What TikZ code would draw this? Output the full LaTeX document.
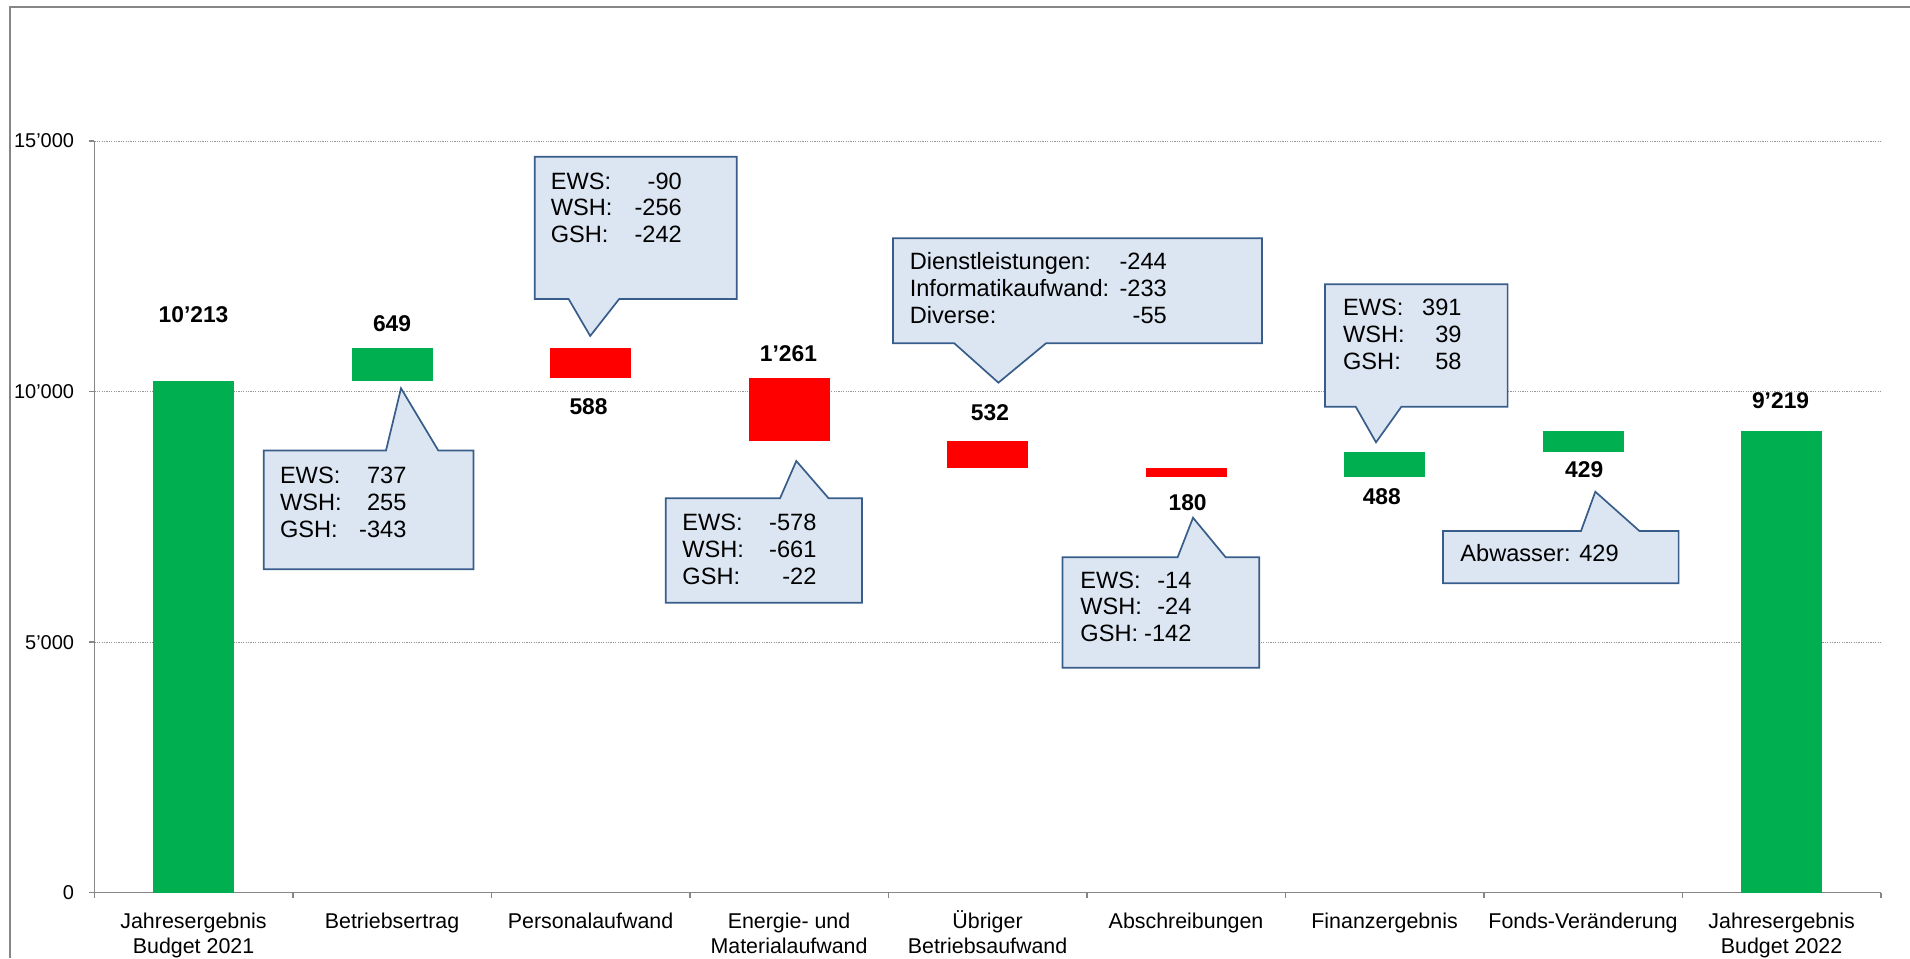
\documentclass[tikz,border=0pt]{standalone}
\usepackage{fontspec}
\setmainfont{Liberation Sans}
\usepackage{tikz}
\usetikzlibrary{positioning,calc,backgrounds}
\definecolor{BarGreen}{RGB}{0,176,80}
\definecolor{BarRed}{RGB}{255,0,0}
\definecolor{AxisGray}{RGB}{134,134,134}
\definecolor{GridGray}{RGB}{150,150,150}
\definecolor{NoteFill}{RGB}{220,230,242}
\definecolor{NoteLine}{RGB}{56,93,138}

\begin{document}
\begin{tikzpicture}[
    x=99.25pt,
    y=25.055pt,
    axisline/.style={draw=AxisGray, line width=0.7pt},
    gridline/.style={draw=GridGray, line width=0.5pt, dash pattern=on 0.6pt off 0.6pt},
    gainbar/.style={fill=BarGreen},
    lossbar/.style={fill=BarRed},
    ticklabel/.style={anchor=east, inner sep=0pt, xshift=-9.9pt, font=\fontsize{10}{12}\selectfont},
    catlabel/.style={anchor=base, inner sep=0pt, align=center, font=\fontsize{10.7}{12.3}\selectfont},
    valuelabel/.style={inner sep=0pt, font=\fontsize{11.4}{13}\selectfont\bfseries},
    notebox/.style={draw=NoteLine, line width=0.85pt, fill=NoteFill, line join=miter},
    notetext/.style={anchor=north west, inner sep=0pt, font=\fontsize{11.8}{13.4}\selectfont}
]

% Page size and the outer chart frame (cut off at right and bottom).
\useasboundingbox (-0.4751,-1.3031) rectangle (9.1471,17.815);
\draw[draw=AxisGray, line width=0.9pt] (-0.4247,-1.3031) -- (-0.4247,17.675) -- (9.1471,17.675);

% Dotted value grid behind everything.
\begin{scope}[on background layer]
    \draw[gridline] (0,5) -- (9,5);
    \draw[gridline] (0,10) -- (9,10);
    \draw[gridline] (0,15) -- (9,15);
\end{scope}

% Axes with their tick marks.
\draw[axisline] (0,15) -- (0,0) -- (9,0);
\draw[axisline] (0,0) -- ++(-2.85pt,0) (0,5) -- ++(-2.85pt,0) (0,10) -- ++(-2.85pt,0) (0,15) -- ++(-2.85pt,0);
\draw[axisline] (0,0) -- ++(0,-2.8pt) (1,0) -- ++(0,-2.8pt) (2,0) -- ++(0,-2.8pt) (3,0) -- ++(0,-2.8pt)
    (4,0) -- ++(0,-2.8pt) (5,0) -- ++(0,-2.8pt) (6,0) -- ++(0,-2.8pt) (7,0) -- ++(0,-2.8pt)
    (8,0) -- ++(0,-2.8pt) (9,0) -- ++(0,-2.8pt);

% Value axis labels.
\node[ticklabel] (tick0) at (0,0) {0};
\node[ticklabel] (tick5) at (0,5) {5’000};
\node[ticklabel] (tick10) at (0,10) {10’000};
\node[ticklabel] (tick15) at (0,15) {15’000};

% Waterfall bars: totals from zero, steps floating between running values.
\fill[gainbar] (0.296,0) rectangle (0.704,10.213);
\fill[gainbar] (1.296,10.213) rectangle (1.704,10.862);
\fill[lossbar] (2.296,10.862) rectangle (2.704,10.274);
\fill[lossbar] (3.296,10.274) rectangle (3.704,9.013);
\fill[lossbar] (4.296,9.013) rectangle (4.704,8.481);
\fill[lossbar] (5.296,8.481) rectangle (5.704,8.301);
\fill[gainbar] (6.296,8.301) rectangle (6.704,8.789);
\fill[gainbar] (7.296,8.789) rectangle (7.704,9.218);
\fill[gainbar] (8.296,0) rectangle (8.704,9.219);

% Bold amounts next to each bar.
\node[valuelabel] (startval) at (0.5,11.535) {10’213};
\node[valuelabel] (ertragval) at (1.5,11.363) {649};
\node[valuelabel] (personalval) at (2.49,9.70) {588};
\node[valuelabel] (energieval) at (3.497,10.754) {1’261};
\node[valuelabel] (uebrigerval) at (4.512,9.583) {532};
\node[valuelabel] (abschrval) at (5.508,7.781) {180};
\node[valuelabel] (finanzval) at (6.486,7.903) {488};
\node[valuelabel] (fondsval) at (7.506,8.435) {429};
\node[valuelabel] (endval) at (8.495,9.822) {9’219};

% Category names under the axis (two-line names sit on their second baseline).
\node[catlabel] (startcat) at (0.5,-1.209) {Jahresergebnis\\Budget 2021};
\node[catlabel] (ertragcat) at (1.5,-0.718) {Betriebsertrag};
\node[catlabel] (personalcat) at (2.5,-0.718) {Personalaufwand};
\node[catlabel] (energiecat) at (3.5,-1.209) {Energie- und\\Materialaufwand};
\node[catlabel] (uebrigercat) at (4.5,-1.209) {Übriger\\Betriebsaufwand};
\node[catlabel] (abschrcat) at (5.5,-0.718) {Abschreibungen};
\node[catlabel] (finanzcat) at (6.5,-0.718) {Finanzergebnis};
\node[catlabel] (fondscat) at (7.5,-0.718) {Fonds-Veränderung};
\node[catlabel] (endcat) at (8.5,-1.209) {Jahresergebnis\\Budget 2022};

% Callout texts: breakdown of each step.
\node[notetext] (ertragnote) at (0.9335,8.547) {\begin{tabular*}{63.2pt}{@{}l@{\extracolsep{\fill}}r@{}}EWS: & 737\\WSH: & 255\\GSH: & -343\end{tabular*}};
\node[notetext] (personalnote) at (2.2977,14.424) {\begin{tabular*}{65.5pt}{@{}l@{\extracolsep{\fill}}r@{}}EWS: & -90\\WSH: & -256\\GSH: & -242\end{tabular*}};
\node[notetext] (energienote) at (2.9607,7.605) {\begin{tabular*}{67pt}{@{}l@{\extracolsep{\fill}}r@{}}EWS: & -578\\WSH: & -661\\GSH: & -22\end{tabular*}};
\node[notetext] (uebrigernote) at (4.1063,12.814) {\begin{tabular*}{128.5pt}{@{}l@{\extracolsep{\fill}}r@{}}Dienstleistungen: & -244\\Informatikaufwand: & -233\\Diverse: & -55\end{tabular*}};
\node[notetext] (abschrnote) at (4.9657,6.462) {\begin{tabular*}{55.5pt}{@{}l@{\extracolsep{\fill}}r@{}}EWS: & -14\\WSH: & -24\\GSH: & -142\end{tabular*}};
\node[notetext] (finanznote) at (6.2892,11.896) {\begin{tabular*}{59.2pt}{@{}l@{\extracolsep{\fill}}r@{}}EWS: & 391\\WSH: & 39\\GSH: & 58\end{tabular*}};
\node[notetext] (fondsnote) at (6.8801,6.987) {\strut Abwasser: 429};

% Callout boxes with their pointers, under the texts but over the grid.
\begin{scope}[on background layer]
    \draw[notebox] (0.8535,8.825) -- (1.4695,8.825) -- (1.5451,10.066) -- (1.733,8.825) -- (1.9103,8.825)
        -- (1.9103,6.454) -- (0.8535,6.454) -- cycle;
    \draw[notebox] (2.2186,14.688) -- (3.2363,14.688) -- (3.2363,11.848) -- (2.6443,11.848)
        -- (2.4982,11.110) -- (2.3894,11.848) -- (2.2186,11.848) -- cycle;
    \draw[notebox] (2.8786,7.871) -- (3.4544,7.871) -- (3.5365,8.615) -- (3.6992,7.871) -- (3.8675,7.871)
        -- (3.8675,5.787) -- (2.8786,5.787) -- cycle;
    \draw[notebox] (4.0237,13.059) -- (5.8826,13.059) -- (5.8826,10.964) -- (4.7945,10.964)
        -- (4.5547,10.178) -- (4.3325,10.964) -- (4.0237,10.964) -- cycle;
    \draw[notebox] (4.8771,6.693) -- (5.4574,6.693) -- (5.5350,7.483) -- (5.6997,6.693) -- (5.8685,6.693)
        -- (5.8685,4.490) -- (4.8771,4.490) -- cycle;
    \draw[notebox] (6.2000,12.141) -- (7.1199,12.141) -- (7.1199,9.699) -- (6.5849,9.699)
        -- (6.4569,8.988) -- (6.3546,9.699) -- (6.2000,9.699) -- cycle;
    \draw[notebox] (6.7945,7.218) -- (7.4897,7.218) -- (7.5617,8.002) -- (7.784,7.218) -- (7.9814,7.218)
        -- (7.9814,6.174) -- (6.7945,6.174) -- cycle;
\end{scope}

\end{tikzpicture}
\end{document}
